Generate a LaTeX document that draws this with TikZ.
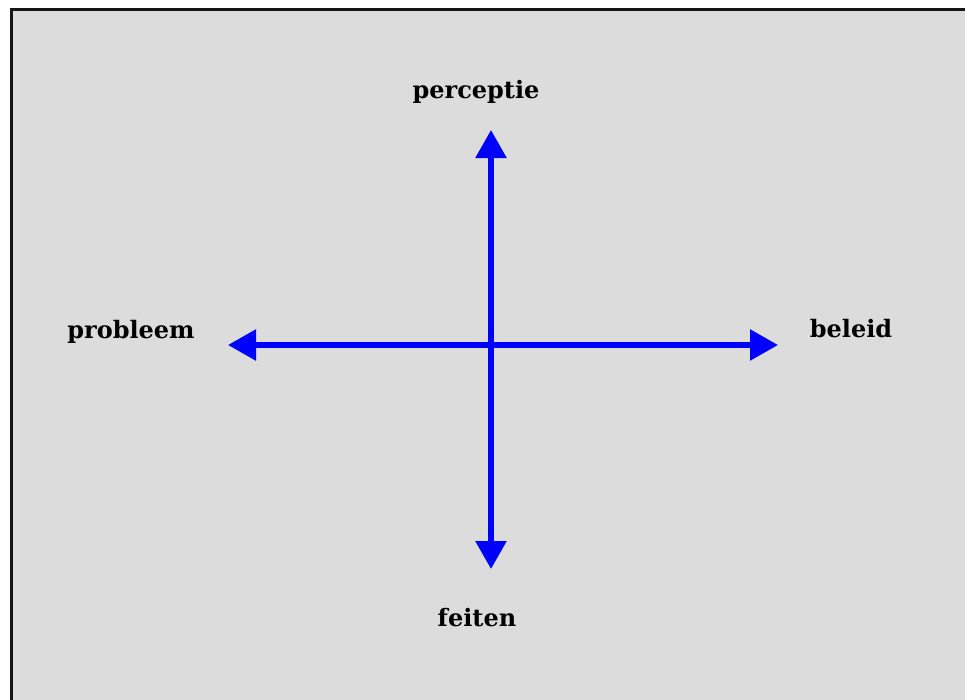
\documentclass[tikz,border=0pt]{standalone}
\usepackage{fontspec}
\setmainfont{DejaVu Serif}
\usetikzlibrary{arrows.meta, positioning}
\definecolor{cpanel}{HTML}{DCDCDC}
\definecolor{cblue}{HTML}{0000FF}
\definecolor{cframe}{HTML}{151515}
\tikzset{
  every picture/.style={x=1pt, y=-1pt},
  label/.style={font=\fontsize{24}{29}\selectfont\bfseries, anchor=base, inner sep=0pt},
  axis/.style={{Triangle[length=28pt, width=30pt]}-{Triangle[length=28pt, width=30pt]}, draw=cblue, line width=5.5pt},
  panel/.style={draw=cframe, fill=cpanel, line width=3pt},
}

\begin{document}
\begin{tikzpicture}
  \useasboundingbox (0,0) rectangle (965,699);
  \draw[panel] (11,9) rectangle (985,720);
  \node[label] (perc) at (476,98) {perceptie};
  \node[label] (feit) at (477,626) {feiten};
  \node[label] (prob) at (131,338) {probleem};
  \node[label] (bel) at (851,337) {beleid};
  \coordinate (top) at (491,130);
  \coordinate (bottom) at (491,569);
  \coordinate (west) at (228,345);
  \coordinate (east) at (778,345);
  \draw[axis] (bottom) -- (top);
  \draw[axis] (west) -- (east);
\end{tikzpicture}
\end{document}
